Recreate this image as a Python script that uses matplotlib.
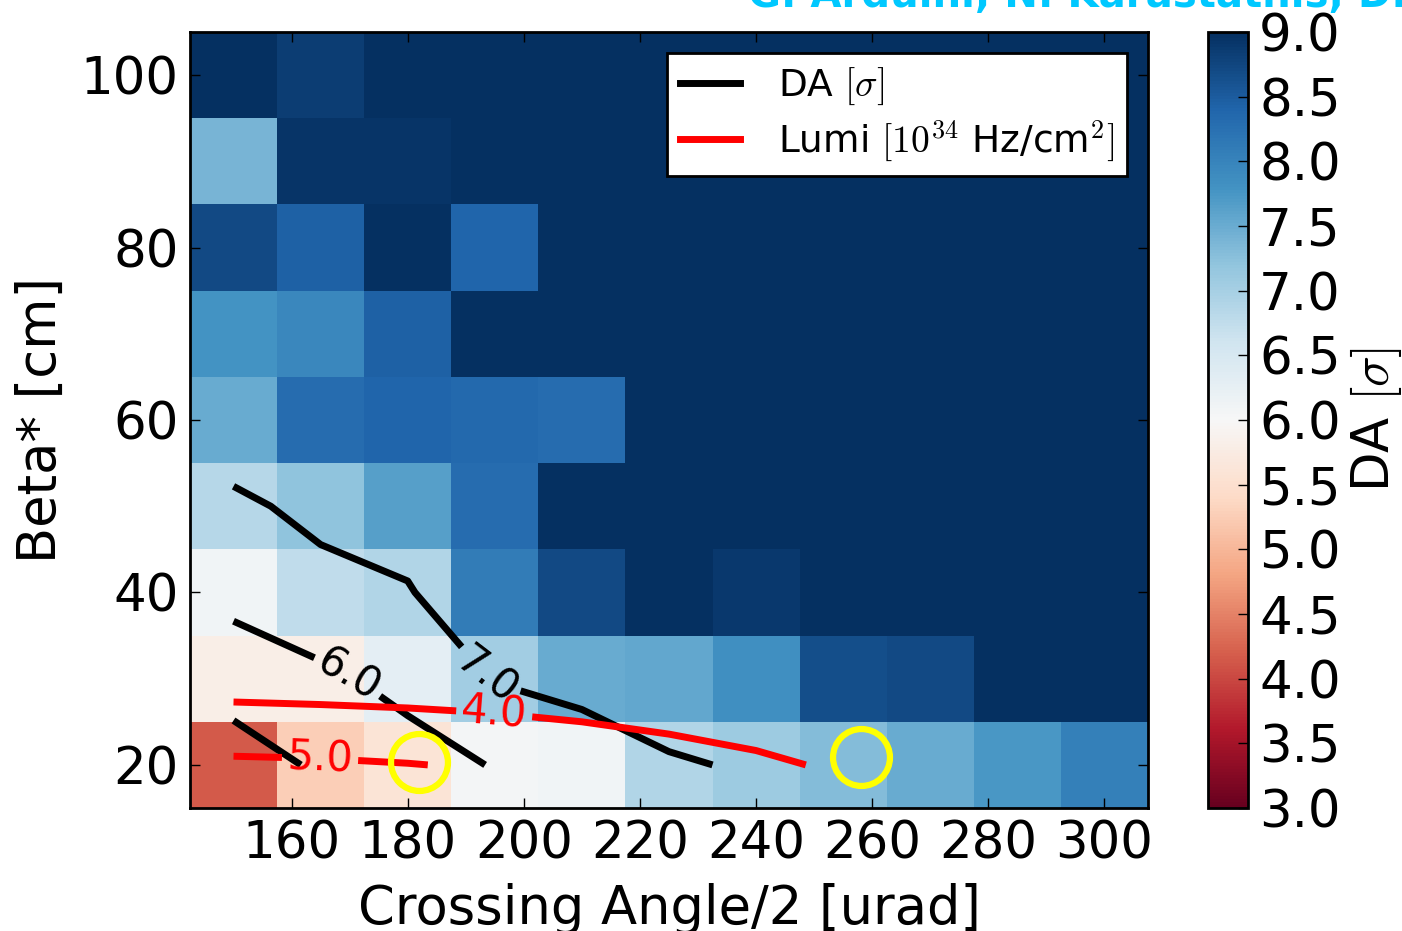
import numpy as np
import matplotlib
matplotlib.use('Agg')
import matplotlib.pyplot as plt
from matplotlib.lines import Line2D

plt.rcParams['font.family'] = ['DejaVu Sans']
plt.rcParams['mathtext.fontset'] = 'cm'

# scan grid: half crossing angle [urad] and beta* [cm]
xang = [150, 165, 180, 195, 210, 225, 240, 255, 270, 285, 300]
beta = [20, 30, 40, 50, 60, 70, 80, 90, 100]

# dynamic aperture [sigma], one row per beta* (bottom to top)
da_b20 = [4.15, 5.25, 5.6, 6.05, 6.1, 6.9, 7.1, 7.3, 7.5, 7.75, 8.05]
da_b30 = [5.8, 5.8, 6.3, 7.05, 7.5, 7.55, 7.85, 8.65, 8.7, 9.0, 9.0]
da_b40 = [6.1, 6.75, 6.9, 8.1, 8.7, 9.0, 8.9, 9.0, 9.0, 9.0, 9.0]
da_b50 = [6.85, 7.2, 7.65, 8.3, 9.0, 9.0, 9.0, 9.0, 9.0, 9.0, 9.0]
da_b60 = [7.5, 8.3, 8.4, 8.35, 8.3, 9.0, 9.0, 9.0, 9.0, 9.0, 9.0]
da_b70 = [7.8, 7.95, 8.45, 9.0, 9.0, 9.0, 9.0, 9.0, 9.0, 9.0, 9.0]
da_b80 = [8.7, 8.45, 9.0, 8.4, 9.0, 9.0, 9.0, 9.0, 9.0, 9.0, 9.0]
da_b90 = [7.4, 8.95, 8.93, 9.0, 9.0, 9.0, 9.0, 9.0, 9.0, 9.0, 9.0]
da_b100 = [9.0, 8.85, 9.0, 9.0, 9.0, 9.0, 9.0, 9.0, 9.0, 9.0, 9.0]

# luminosity [1e34 Hz/cm2]
lumi_b20 = [5.16, 5.12, 5.03, 4.9, 4.7, 4.5, 4.2, 3.85, 3.6, 3.4, 3.2]
lumi_b30 = [3.57, 3.52, 3.47, 3.4, 3.3, 3.1, 3.0, 2.85, 2.7, 2.6, 2.5]
lumi_b40 = [2.75, 2.7, 2.65, 2.6, 2.5, 2.4, 2.3, 2.2, 2.1, 2.0, 1.95]
lumi_b50 = [2.25, 2.2, 2.15, 2.1, 2.05, 2.0, 1.9, 1.85, 1.75, 1.7, 1.6]
lumi_b60 = [1.9, 1.85, 1.8, 1.8, 1.75, 1.7, 1.65, 1.6, 1.55, 1.5, 1.45]
lumi_b70 = [1.6, 1.6, 1.55, 1.55, 1.5, 1.45, 1.4, 1.4, 1.35, 1.3, 1.25]
lumi_b80 = [1.4, 1.4, 1.4, 1.35, 1.35, 1.3, 1.25, 1.25, 1.2, 1.15, 1.1]
lumi_b90 = [1.25, 1.25, 1.25, 1.2, 1.2, 1.15, 1.1, 1.1, 1.05, 1.05, 1.0]
lumi_b100 = [1.15, 1.1, 1.1, 1.1, 1.05, 1.05, 1.0, 1.0, 0.95, 0.95, 0.9]

# highlighted working points
wp_x = [182, 258]
wp_y = [20.3, 20.9]

da = np.array([da_b20, da_b30, da_b40, da_b50, da_b60, da_b70, da_b80, da_b90, da_b100])
lumi = np.array([lumi_b20, lumi_b30, lumi_b40, lumi_b50, lumi_b60, lumi_b70,
                 lumi_b80, lumi_b90, lumi_b100])

fig = plt.figure(figsize=(14.02, 9.31), dpi=100)
ax = fig.add_axes([0.1355, 0.1321, 0.6833, 0.8335])
cax = fig.add_axes([0.8616, 0.1321, 0.0285, 0.8335])

mesh = ax.pcolormesh(xang, beta, da, shading='nearest', cmap='RdBu', vmin=3, vmax=9)

# DA contours (black) and luminosity contours (red)
ax.contour(xang, beta, da, levels=[5], colors='k', linewidths=5)
cs_da = ax.contour(xang, beta, da, levels=[6, 7], colors='k', linewidths=5)
ax.clabel(cs_da, fmt='%.1f', fontsize=30, inline=True,
          manual=[(169, 29.4), (195.4, 31.4)])
cs_lu = ax.contour(xang, beta, lumi, levels=[4, 5], colors='r', linewidths=5)
ax.clabel(cs_lu, fmt='%.1f', fontsize=30, inline=True,
          manual=[(194.9, 25.9), (164.9, 20.6)])

ax.plot(wp_x, wp_y, 'o', mfc='none', mec='yellow', ms=41, mew=4.5)

ax.set_xlim(142.5, 307.5)
ax.set_ylim(15, 105)
ax.set_xticks([160, 180, 200, 220, 240, 260, 280, 300])
ax.set_yticks([20, 40, 60, 80, 100])
ax.tick_params(direction='in', top=True, right=True, length=7, width=1,
               labelsize=37, pad=8)
for s in ax.spines.values():
    s.set_linewidth(2)
ax.set_xlabel('Crossing Angle/2 [urad]', fontsize=38, labelpad=10)
ax.set_ylabel('Beta* [cm]', fontsize=38, labelpad=10)

handles = [Line2D([], [], color='k', lw=5), Line2D([], [], color='r', lw=5)]
leg = ax.legend(handles, [r'DA $[\sigma]$', r'Lumi $[10^{34}$ Hz/cm$^2]$'],
                loc='upper right', fontsize=27, fancybox=False, framealpha=1,
                borderaxespad=0.55, handlelength=1.6, handletextpad=1.0,
                labelspacing=0.3, borderpad=0.35)
leg.get_frame().set_edgecolor('k')
leg.get_frame().set_linewidth(2)

cb = fig.colorbar(mesh, cax=cax, ticks=np.arange(3, 9.01, 0.5), format='%.1f')
cb.outline.set_linewidth(2)
cax.tick_params(direction='in', length=7, width=1, labelsize=37, pad=8)
cb.set_label(r'DA $[\sigma]$', fontsize=37, labelpad=5)

fig.text(748 / 1402, 1 - 7 / 931, 'G. Arduini, N. Karastathis, D. Pellegrini',
         color='#00c8ff', fontsize=29, fontweight='bold', va='baseline')

fig.savefig('out.png', dpi=100)
